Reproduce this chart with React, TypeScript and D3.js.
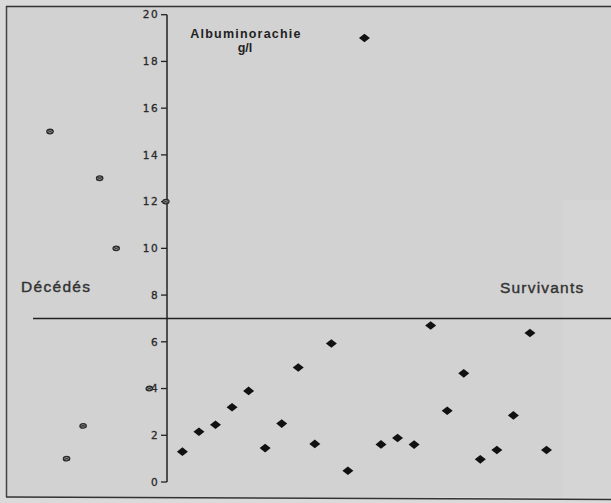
import React from "react";
import * as d3 from "d3";

const W = 611;
const H = 503;

// Y axis ticks
const yTicks = [0, 2, 4, 6, 8, 10, 12, 14, 16, 18, 20];
// Deceased patients (index position along x), null = no patient at that slot
const deceased: (number | null)[] = [15, 1.0, 2.4, 13, 10, null, 4, 12];
// Survivors
const survivors = [
  1.3, 2.15, 2.45, 3.2, 3.9, 1.45, 2.5, 4.9, 1.63, 5.93, 0.48, 19, 1.61, 1.88, 1.6,
  6.7, 3.05, 4.65, 0.97, 1.37, 2.85, 6.38, 1.37,
];
const threshold = 7;
const yLabel = ["Albuminorachie", "g/l"];
const groupLabels = ["Décédés", "Survivants"];

export default function App() {
  const y = d3.scaleLinear().domain([0, 20]).range([482, 14.7]);
  const nTotal = deceased.length + survivors.length;
  const x = d3.scaleLinear().domain([0, nTotal - 1]).range([50, 50 + 16.55 * (nTotal - 1)]);
  const axisX = 167;
  const diamond = "M-5.5,0L0,-4.3L5.5,0L0,4.3Z";
  const font = "'Liberation Sans', Arial, sans-serif";

  return (
    <svg
      width={W}
      height={H}
      style={{ position: "absolute", left: 0, top: 0, display: "block" }}
      fontFamily={font}
    >
      <rect x={0} y={0} width={W} height={H} fill="#dadada" />
      <rect x={6} y={6} width={W - 6} height={491} fill="#d2d2d2" />
      <rect x={562} y={200} width={W - 562} height={297} fill="#d5d5d5" />
      {/* frame */}
      <line x1={6.5} y1={6} x2={6.5} y2={497} stroke="#444" strokeWidth={1.5} />
      <line x1={6} y1={6.5} x2={W} y2={6.5} stroke="#333" strokeWidth={1.5} />
      <line x1={6} y1={497} x2={W} y2={499.5} stroke="#333" strokeWidth={1.5} />

      {/* y axis */}
      <line x1={axisX} y1={y(20)} x2={axisX} y2={y(0)} stroke="#222" strokeWidth={1.5} />
      {yTicks.map((t) => (
        <g key={t}>
          <line x1={axisX - 6} x2={axisX} y1={y(t)} y2={y(t)} stroke="#222" strokeWidth={1.3} />
          <text
            x={axisX - 8}
            y={y(t)}
            dy="0.36em"
            textAnchor="end"
            fontSize={10.5}
            fontFamily="'DejaVu Sans', sans-serif"
            letterSpacing={1.4}
            fill="#2a2a2a"
            stroke="#2a2a2a"
            strokeWidth={0.3}
          >
            {t}
          </text>
        </g>
      ))}

      {/* threshold line */}
      <line x1={33} x2={W} y1={y(threshold)} y2={y(threshold)} stroke="#222" strokeWidth={1.5} />

      {/* labels */}
      <text x={246} y={38} textAnchor="middle" fontSize={12.5} fontWeight="bold" letterSpacing={1.2} fill="#222">
        {yLabel[0]}
      </text>
      <text x={245} y={52} textAnchor="middle" fontSize={12.5} fontWeight="bold" fill="#222">
        {yLabel[1]}
      </text>
      <text x={21} y={292} fontSize={15.5} letterSpacing={1.3} fill="#333" stroke="#333" strokeWidth={0.4}>
        {groupLabels[0]}
      </text>
      <text x={500} y={293} fontSize={15.5} letterSpacing={1.2} fill="#333" stroke="#333" strokeWidth={0.4}>
        {groupLabels[1]}
      </text>

      {/* deceased */}
      {deceased.map((v, i) =>
        v === null ? null : (
          <g key={"d" + i} transform={`translate(${x(i)},${y(v)})`}>
            <ellipse rx={3.2} ry={2.3} fill="#999" stroke="#2a2a2a" strokeWidth={1.3} />
            <path d="M-3,-1.5L3,1.5M-3,1.5L3,-1.5" stroke="#333" strokeWidth={0.9} />
          </g>
        )
      )}

      {/* survivors */}
      {survivors.map((v, i) => (
        <path
          key={"s" + i}
          d={diamond}
          transform={`translate(${x(deceased.length + i)},${y(v)})`}
          fill="#111"
        />
      ))}
    </svg>
  );
}
